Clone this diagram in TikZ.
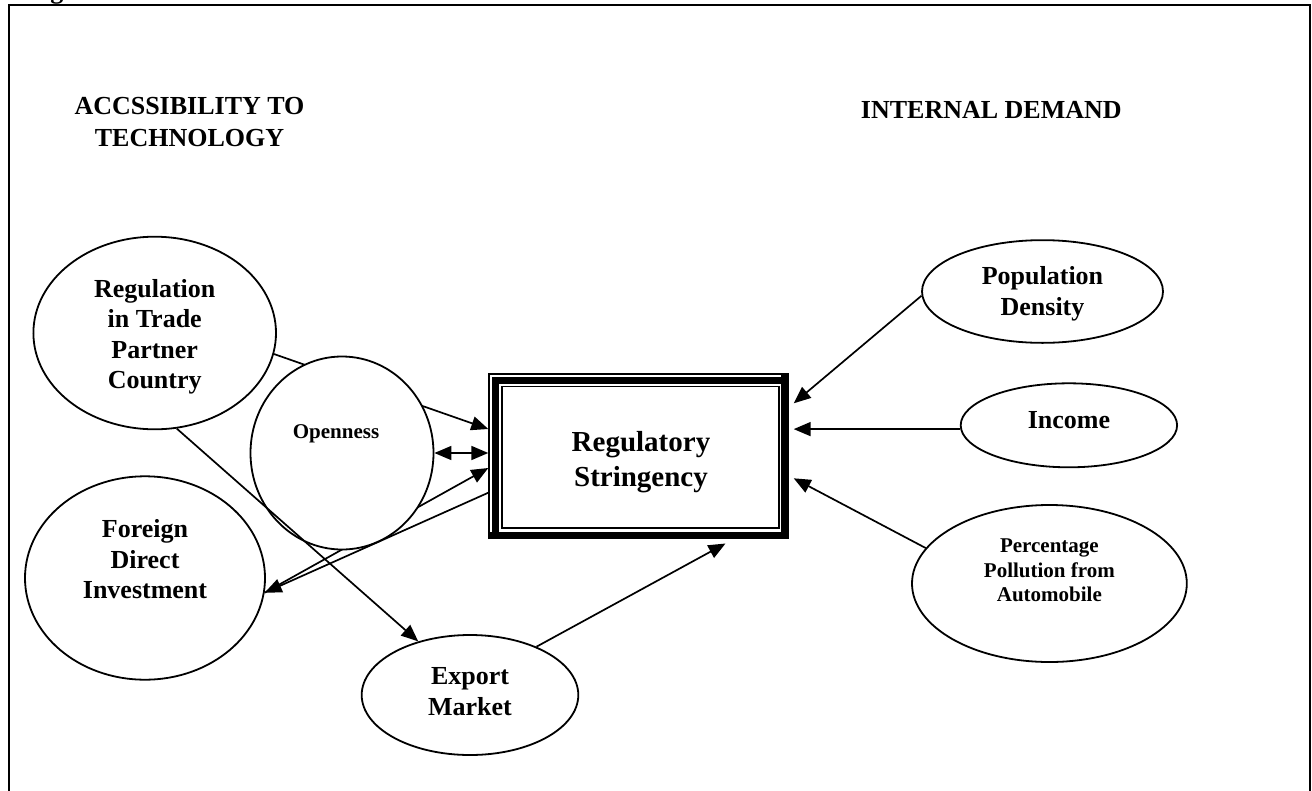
\documentclass[tikz,border=0pt]{standalone}
\usepackage{fontspec}
\setmainfont{Liberation Serif}
\usetikzlibrary{shapes.geometric,arrows.meta,backgrounds,calc}
\begin{document}
\begin{tikzpicture}[x=1pt,y=-1pt,
  bubble/.style={ellipse, draw, line width=1.8pt, fill=white, inner sep=0pt},
  bigtxt/.style={font=\bfseries\fontsize{26}{30.5}\selectfont, align=center, inner sep=0pt},
  smalltxt/.style={font=\bfseries\fontsize{21}{24.3}\selectfont, align=center, inner sep=0pt},
  link/.style={line width=1.7pt},
  arrowto/.style={link, -{Triangle[length=17pt,width=14pt]}},
  arrowboth/.style={link, {Triangle[length=17pt,width=14pt]}-{Triangle[length=17pt,width=14pt]}},
  heading/.style={font=\bfseries\fontsize{26}{31.7}\selectfont, align=center, inner sep=0pt},
]
\useasboundingbox (0,0) rectangle (1312,790);

% caption running off the top edge
\begin{scope}
  \clip (0,0) rectangle (1312,790);
  \node[font=\bfseries\fontsize{26}{30}\selectfont, anchor=base west, inner sep=0pt] (cap) at (27,-2) {Figure};
\end{scope}

% outer frame, open at the bottom
\draw[line width=2pt] (9,800) -- (9,5) -- (1309.5,5) -- (1309.5,800);

% group headings
\node[heading] (hleft) at (189.5,122.2) {ACCSSIBILITY TO\\TECHNOLOGY};
\node[heading, anchor=base] (hright) at (991.3,118.3) {INTERNAL DEMAND};

% factor bubbles
\node[bubble, minimum width=242.6pt, minimum height=192.6pt,
  label={[bigtxt, yshift=-4pt]center:{Regulation\\in Trade\\Partner\\Country}}] (reg) at (154.7,333) {};
\node[bubble, minimum width=240pt, minimum height=203.4pt,
  label={[bigtxt, yshift=18.6pt]center:{Foreign\\Direct\\Investment}}] (fdi) at (145,578) {};
\node[bubble, minimum width=216.6pt, minimum height=120pt,
  label={[bigtxt, yshift=3.6pt]center:{Export\\Market}}] (exp) at (470,695) {};
\node[bubble, minimum width=241pt, minimum height=102.7pt,
  label={[bigtxt, yshift=-2.4pt]center:{Population\\Density}}] (pop) at (1042.5,291.5) {};
\node[bubble, minimum width=216.4pt, minimum height=84pt,
  label={[bigtxt, yshift=5.6pt]center:{Income}}] (inc) at (1068.9,425.3) {};
\node[bubble, minimum width=274.8pt, minimum height=157pt,
  label={[smalltxt, yshift=13pt]center:{Percentage\\Pollution from\\Automobile}}] (pct) at (1049.4,583.5) {};

% central box
\node[fill=white, inner sep=0pt, minimum width=300pt, minimum height=165pt,
  label={[font=\bfseries\fontsize{29}{35}\selectfont, align=center, inner sep=0pt, xshift=2pt, yshift=-6pt]center:{Regulatory\\Stringency}}] (box) at (639,456.5) {};
% thin-thick-thin border with heavy shadow on the right and bottom
\fill ($(box.north west)+(3,3)$) rectangle ($(box.north east)+(-8,10.5)$);
\fill ($(box.north west)+(3,3)$) rectangle ($(box.south west)+(10.5,-7)$);
\fill ($(box.north east)+(-8.5,0)$) rectangle (box.south east);
\fill ($(box.south west)+(0,-7.5)$) rectangle (box.south east);
\draw[line width=1.5pt] (box.south west) -- (box.north west) -- (box.north east);
\draw[line width=1.4pt] ($(box.north west)+(13,12.7)$) rectangle ($(box.south east)+(-10.2,-11.2)$);

% arrival and departure points on the box
\coordinate (inA) at ([xshift=-0.5pt,yshift=27.5pt]box.west);
\coordinate (inB) at ([xshift=-0.5pt,yshift=-11.5pt]box.west);
\coordinate (outC) at ([xshift=-0.5pt,yshift=-36.2pt]box.west);
\coordinate (inL) at ([xshift=-0.5pt]box.west);
\coordinate (inD) at ([xshift=86.5pt,yshift=-4.3pt]box.south);
\coordinate (inE) at ([xshift=4.5pt,yshift=53.2pt]box.east);
\coordinate (inF) at ([xshift=4.5pt]box.east);
\coordinate (inG) at ([xshift=4.5pt,yshift=-21.8pt]box.east);

% openness bubble sits over the links that pass behind it
\begin{scope}[on background layer]
  \draw[arrowto] (reg.-10.9) -- (inA);
  \draw[arrowto] (fdi.-7.5) -- (inB);
\end{scope}
\node[bubble, minimum width=183pt, minimum height=193pt,
  label={[smalltxt, xshift=-6pt, yshift=19.6pt]center:{Openness}}] (open) at (342,453) {};

% remaining links
\draw[arrowboth] (open.east) -- (open.east -| inL);
\draw[arrowto] (outC) -- (fdi.-7.5);
\draw[arrowto] (reg.-77.1) -- (exp.134.4);
\draw[arrowto] (exp.36.3) -- (inD);
\draw[arrowto] (pop.182.5) -- (inE);
\draw[arrowto] (inc.182) -- (inc.182 -| inF);
\draw[arrowto] (pct.164.6) -- (inG);
\end{tikzpicture}
\end{document}
